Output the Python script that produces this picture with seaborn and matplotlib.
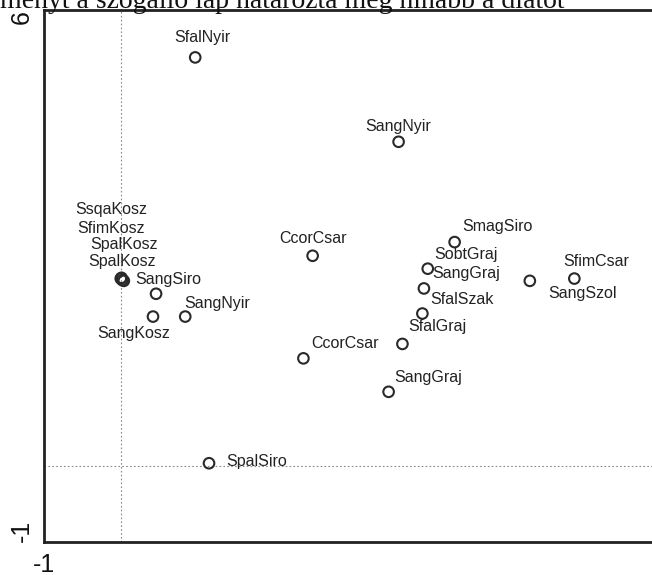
import matplotlib
matplotlib.use("Agg")
import matplotlib.pyplot as plt
import seaborn as sns
import pandas as pd

# ordination scores
labels = ["SfalNyir", "SangNyir", "SsqaKosz", "SfimKosz", "SpalKosz", "SpalKosz",
          "SangSiro", "SangNyir", "SangKosz", "CcorCsar", "SmagSiro", "SobtGraj",
          "SangGraj", "SfalSzak", "SfalGraj", "CcorCsar", "SangGraj", "SfimCsar",
          "SangSzol", "SpalSiro"]
axis1 = [0.97, 3.62, 0.00, 0.02, 0.04, 0.01,
         0.46, 0.84, 0.42, 2.50, 4.35, 4.00,
         3.95, 3.93, 3.67, 2.38, 3.49, 5.91,
         5.33, 1.15]
axis2 = [5.38, 4.27, 2.47, 2.45, 2.44, 2.48,
         2.27, 1.97, 1.97, 2.77, 2.95, 2.60,
         2.34, 2.01, 1.61, 1.42, 0.98, 2.47,
         2.44, 0.04]

# label placement relative to the point (pixels)
offsets = [(7, 20), (0, 15), (-10, 69), (-11, 52), (0, 36), (0, 16),
           (12, 14), (32, 13), (-19, -17), (0, 17), (43, 16), (38, 14),
           (42, 15), (40, 14), (35, 17), (42, 15), (40, 14), (22, 17),
           (53, -13), (48, 2)]

df = pd.DataFrame({"label": labels, "x": axis1, "y": axis2})

sns.set_style("white")
plt.rcParams["font.family"] = ["Liberation Sans", "DejaVu Sans"]

fig = plt.figure(figsize=(6.52, 5.75), dpi=100)
ax = fig.add_axes([0.0675, 0.0569, 0.9417, 0.9252])

ax.axvline(0, color="#8a8a8a", lw=0.8, ls=(0, (1.5, 2)), zorder=0)
ax.axhline(0, color="#8a8a8a", lw=0.8, ls=(0, (1.5, 2)), zorder=0)

sns.scatterplot(data=df, x="x", y="y", ax=ax, marker="o", s=58,
                facecolor="none", edgecolor="#2a2a2a", linewidth=1.5, zorder=3)

for lab, x, y, (dx, dy) in zip(labels, axis1, axis2, offsets):
    ax.annotate(lab, (x, y), xytext=(dx, dy), textcoords="offset pixels",
                ha="center", va="center", fontsize=11.5, color="#222222")

ax.set_xlim(-1, 7)
ax.set_ylim(-1, 6)
ax.set_xticks(range(-1, 8))
ax.set_xticklabels(["-1"] + [""] * 7 + ["7"], fontsize=18)
ax.set_yticks(range(-1, 7))
ax.set_yticklabels(["-1"] + [""] * 6 + ["6"], fontsize=18, rotation=90)
yl = ax.get_yticklabels()
yl[0].set_va("bottom")
yl[-1].set_va("top")
ax.set_xlabel("")
ax.set_ylabel("")
ax.tick_params(direction="inout", length=7, width=1.5, color="#222222",
               labelcolor="#111111", pad=4)
for side in ["left", "bottom", "top"]:
    ax.spines[side].set_linewidth(2)
    ax.spines[side].set_color("#222222")
ax.spines["right"].set_visible(False)

# bottom of a line of page text, cut off by the screenshot
fig.text(0.0, 1 - 8 / 575, "ményt a szögálló lap határozta meg hínabb a diatot",
         fontsize=20, family="Liberation Serif",
         ha="left", va="baseline", color="#111111")

fig.savefig("out.png", dpi=100)
